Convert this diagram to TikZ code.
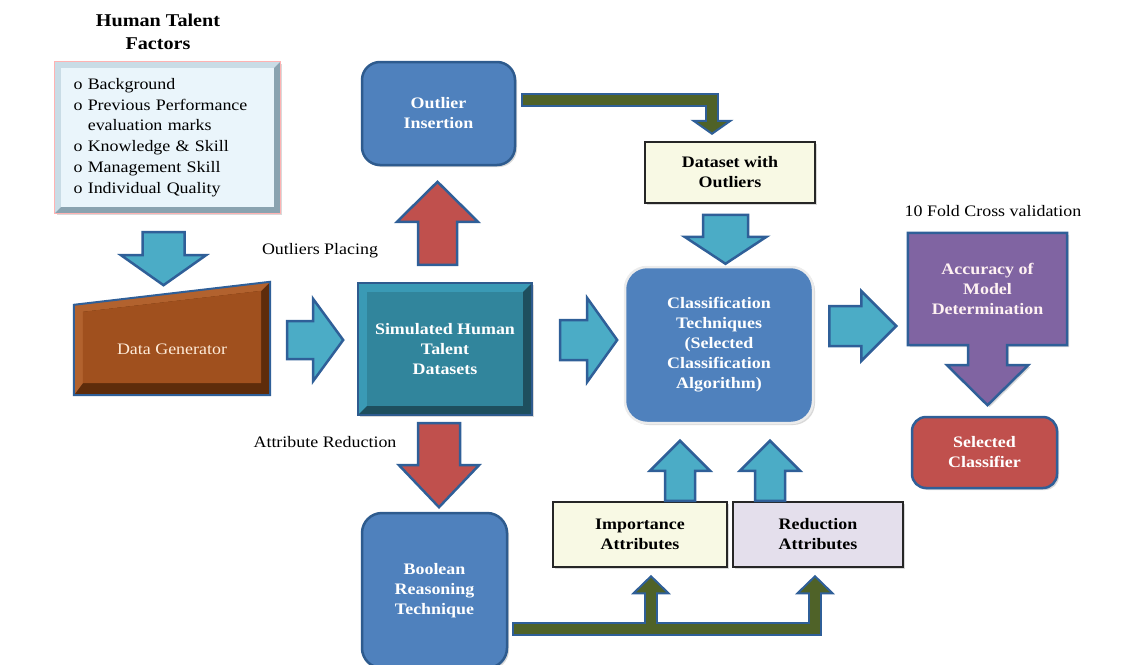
\documentclass[tikz,border=0pt]{standalone}
\usepackage{fontspec}
\setmainfont{Liberation Serif}[FakeStretch=1.12]
\usetikzlibrary{calc,shadows,backgrounds}

\definecolor{arrline}{HTML}{2F5F98}
\definecolor{arrcyan}{HTML}{4BACC6}
\definecolor{boxblue}{HTML}{4F81BD}
\definecolor{boxline}{HTML}{2E5B8E}
\definecolor{simteal}{HTML}{31859C}
\definecolor{simdark}{HTML}{1E4F5E}
\definecolor{simlight}{HTML}{3A9AB5}
\definecolor{genbrown}{HTML}{A0501E}
\definecolor{gendark}{HTML}{5E2C0B}
\definecolor{genlight}{HTML}{B2622E}
\definecolor{outred}{HTML}{C0504D}
\definecolor{accpurple}{HTML}{8064A2}
\definecolor{pipegreen}{HTML}{4F6228}
\definecolor{creambox}{HTML}{F8F9E4}
\definecolor{lavbox}{HTML}{E4DFEC}
\definecolor{facfill}{HTML}{EAF5FB}
\definecolor{faclight}{HTML}{C9DCE6}
\definecolor{facdark}{HTML}{8AA3B0}

% block arrow: style, tail, angle, length, shaft, head width, head length
\newcommand{\blockarrow}[7]{%
  \begin{scope}[shift={(#2)},rotate=#3]
    \draw[#1] (0pt,{#5/2*1pt}) -- ({(#4-#7)*1pt},{#5/2*1pt}) -- ({(#4-#7)*1pt},{#6/2*1pt})
      -- ({#4*1pt},0pt) -- ({(#4-#7)*1pt},{-#6/2*1pt}) -- ({(#4-#7)*1pt},{-#5/2*1pt})
      -- (0pt,{-#5/2*1pt}) -- cycle;
  \end{scope}}

% bevelled edges of a box: node, inset, light, dark
\newcommand{\bevelframe}[4]{%
  \fill[#3] (#1.north west) -- (#1.north east) -- ([shift={(-#2pt,-#2pt)}]#1.north east)
    -- ([shift={(#2pt,-#2pt)}]#1.north west) -- ([shift={(#2pt,#2pt)}]#1.south west)
    -- (#1.south west) -- cycle;
  \fill[#4] (#1.south east) -- (#1.north east) -- ([shift={(-#2pt,-#2pt)}]#1.north east)
    -- ([shift={(-#2pt,#2pt)}]#1.south east) -- ([shift={(#2pt,#2pt)}]#1.south west)
    -- (#1.south west) -- cycle;}

\begin{document}
\begin{tikzpicture}[x=1pt,y=-1pt,
  every node/.style={font=\fontsize{16}{20}\selectfont},
  headline/.style={font=\fontsize{18}{23}\selectfont\bfseries, align=center},
  lbl/.style={font=\fontsize{16}{20}\selectfont},
  shade/.style={drop shadow={shadow xshift=2pt,shadow yshift=-2pt,opacity=.3}},
  rbox/.style={rounded corners=18pt, fill=boxblue, draw=boxline, line width=2.5pt, text=white,
    font=\fontsize{16}{20}\selectfont\bfseries, align=center, inner sep=0pt, shade},
  plainbox/.style={draw=black!85, line width=2.5pt, align=center, inner sep=0pt,
    font=\fontsize{16}{20}\selectfont\bfseries, shade},
  cyanarr/.style={fill=arrcyan, draw=arrline, line width=2.5pt, line join=miter},
  redarr/.style={fill=outred, draw=arrline, line width=2.5pt, line join=miter},
  pipeout/.style={draw=arrline, line width=14pt},
  pipein/.style={draw=pipegreen, line width=10pt},
  pipehead/.style={fill=pipegreen, draw=arrline, line width=2pt, line join=miter},
]
\useasboundingbox (0,0) rectangle (1135,664);

% left column
\node[headline] (title) at (158,32) {Human Talent\\Factors};
\node[fill=facfill, minimum width=225pt, minimum height=151pt, inner sep=0pt, shade,
  font=\fontsize{16}{20.8}\selectfont, text width=188pt, align=left] (factors) at (167.5,137.5)
  {o Background\\o Previous Performance\\\phantom{o\ }evaluation marks\\o Knowledge \& Skill\\
   o Management Skill\\o Individual Quality};
\bevelframe{factors}{6}{faclight}{facdark}
\draw[red!30, line width=1pt] (factors.north west) rectangle (factors.south east);

\node[minimum width=196pt, minimum height=113pt, inner sep=0pt,
  label={[text=orange!15, yshift=-11pt]center:Data Generator}] (gen) at (172,338.5) {};
\begin{scope}[on background layer]
  \fill[gendark] ([yshift=-23pt]gen.north west) -- (gen.north east) -- (gen.south east) -- (gen.south west) -- cycle;
  \fill[genlight] ([yshift=-23pt]gen.north west) -- (gen.north east) -- ([shift={(-9pt,-9pt)}]gen.north east)
    -- ([shift={(9pt,-30pt)}]gen.north west) -- ([shift={(9pt,12pt)}]gen.south west) -- (gen.south west) -- cycle;
  \fill[genbrown] ([shift={(9pt,-30pt)}]gen.north west) -- ([shift={(-9pt,-9pt)}]gen.north east)
    -- ([shift={(-9pt,12pt)}]gen.south east) -- ([shift={(9pt,12pt)}]gen.south west) -- cycle;
  \draw[arrline, line width=2pt] ([yshift=-23pt]gen.north west) -- (gen.north east) -- (gen.south east) -- (gen.south west) -- cycle;
\end{scope}

% middle column
\node[fill=simteal, minimum width=174pt, minimum height=132pt, inner sep=0pt, text=white, align=center,
  font=\fontsize{16}{20}\selectfont\bfseries, shade] (sim) at (445,349) {Simulated Human\\Talent\\Datasets};
\bevelframe{sim}{9}{simlight}{simdark}
\draw[boxline, line width=1.5pt] (sim.north west) rectangle (sim.south east);

\node[rbox, minimum width=153pt, minimum height=103pt] (outl) at (438.5,113.5) {Outlier\\Insertion};
\node[rbox, rounded corners=20pt, minimum width=145pt, minimum height=155pt] (bool) at (434.5,590.5) {Boolean\\Reasoning\\Technique};

\node[lbl] (lplace) at (320,251) {Outliers Placing};
\node[lbl] (lreduce) at (325,442) {Attribute Reduction};

% right part
\node[plainbox, fill=creambox, minimum width=170pt, minimum height=61pt] (dset) at (730,172.5) {Dataset with\\Outliers};
\node[rbox, draw=white!85!gray, rounded corners=22pt, minimum width=188pt, minimum height=156pt] (cls) at (719,345)
  {Classification\\Techniques\\(Selected\\Classification\\Algorithm)};
\node[plainbox, fill=creambox, minimum width=174pt, minimum height=65pt] (impo) at (640,534.5) {Importance\\Attributes};
\node[plainbox, fill=lavbox, minimum width=170pt, minimum height=65pt] (redu) at (818,534.5) {Reduction\\Attributes};

\node[lbl] (lfold) at (993,211) {10 Fold Cross validation};
\node[minimum width=159pt, minimum height=112pt, inner sep=0pt, text=red!5, align=center,
  font=\fontsize{16}{20}\selectfont\bfseries] (acc) at (987.5,289) {Accuracy of\\Model\\Determination};
\begin{scope}[on background layer]
  \draw[fill=accpurple, draw=arrline, line width=2.5pt, line join=miter, shade]
    (acc.north west) -- (acc.north east) -- (acc.south east) -- ++(-60,0) -- ++(0,20) -- ++(21,0)
    -- ($(acc.south)+(0,60)$) -- ++(-40.5,-40) -- ++(21,0) -- ++(0,-20) -- (acc.south west) -- cycle;
\end{scope}
\node[rbox, fill=outred, draw=arrline, rounded corners=14pt, minimum width=145pt, minimum height=71pt] (sel) at (984.5,452.5) {Selected\\Classifier};

% block arrows
\blockarrow{cyanarr}{$(factors.south)+(-4,19)$}{-90}{53}{42}{85}{30}
\blockarrow{cyanarr}{$(gen.east)+(17,1.5)$}{0}{56}{38}{82}{30}
\blockarrow{redarr}{$(sim.north)+(-7.5,-18)$}{90}{83}{39}{81}{40}
\blockarrow{redarr}{$(sim.south)+(-6,8)$}{-90}{84}{42}{80}{42}
\blockarrow{cyanarr}{$(sim.east)+(28,-9)$}{0}{57}{40}{84}{30}
\blockarrow{cyanarr}{$(dset.south)+(-4.5,10.5)$}{-90}{49}{45}{82}{27}
\blockarrow{cyanarr}{$(cls.east)+(15,-19)$}{0}{67}{40}{70}{35}
\blockarrow{cyanarr}{$(impo.north)+(40,0)$}{90}{60}{30}{60}{30}
\blockarrow{cyanarr}{$(redu.north)+(-48,0)$}{90}{60}{30}{60}{30}

% green pipes
\coordinate (pa) at ($(outl.east)+(7,-13.5)$);
\coordinate (ta) at ($(dset.north)+(-18,-7)$);
\draw[pipeout] ($(pa)+(-2,0)$) -| ($(ta)+(0,-12)$);
\draw[pipehead] (ta) -- ++(-18.5,-13) -- ++(37,0) -- cycle;
\draw[pipein] (pa) -| ($(ta)+(0,-11)$);

\coordinate (pb) at ($(bool.east)+(6,38)$);
\coordinate (tb1) at ($(impo.south)+(11,8)$);
\coordinate (tb2) at ($(redu.south)+(-3,8)$);
\draw[pipeout] ($(pb)+(-2,0)$) -| ($(tb2)+(0,16)$);
\draw[pipeout] (tb1 |- pb) -- ($(tb1)+(0,16)$);
\draw[pipehead] (tb1) -- ++(-17.5,17) -- ++(35,0) -- cycle;
\draw[pipehead] (tb2) -- ++(-17.5,17) -- ++(35,0) -- cycle;
\draw[pipein] (pb) -| ($(tb2)+(0,15)$);
\draw[pipein] (tb1 |- pb) -- ($(tb1)+(0,15)$);
\end{tikzpicture}
\end{document}
